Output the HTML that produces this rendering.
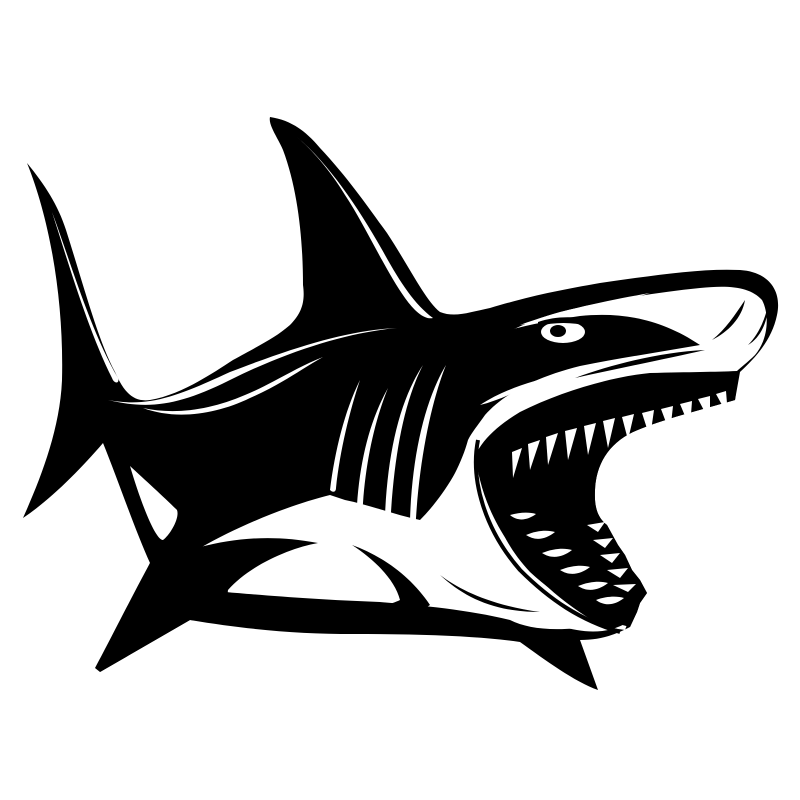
<!DOCTYPE html>
<html><head><meta charset="utf-8"><style>html,body{margin:0;padding:0;background:#fff}svg{display:block}</style></head>
<body>
<svg width="800" height="800" viewBox="0 0 800 800" xmlns="http://www.w3.org/2000/svg">
<rect width="800" height="800" fill="#fff"/>
<path fill="#000" d="
M 27,163
C 45,185 58,205 66,230
C 85,290 98,340 115,372
C 125,395 135,402 150,400
C 180,395 210,375 233,360
C 260,345 275,338 290,325
C 303,312 305,300 303,285
C 303,240 298,190 283,150
C 278,138 268,125 270,117
C 290,120 305,130 320,148
C 350,180 370,210 387,233
C 410,268 425,300 440,312
C 455,318 470,312 490,308
C 530,296 560,290 600,283
C 650,276 700,268 740,270
C 770,272 782,292 777,315
C 772,340 755,358 740,372
L 735,400
C 700,410 660,420 633,432
C 608,444 596,465 595,490
C 594,508 598,518 607,525
L 618,545 L 625,555 L 632,570 L 640,580 L 647,593 L 640,603 L 637,612 L 630,627
C 615,635 600,640 580,640
L 598,690
C 575,682 545,660 520,642
C 480,636 420,634 353,634
C 300,634 250,630 190,620
L 100,672 L 95,668
C 110,640 130,600 150,563
C 135,530 118,480 103,443
C 80,470 50,500 23,518
C 40,480 60,430 62,380
C 64,300 50,220 27,163 Z"/>

<path fill="#fff" d="M 52,212 C 70,260 90,330 118,378 C 120,384 114,384 112,378 C 88,330 68,262 52,212 Z"/>
<path fill="#fff" d="M 130,466 C 145,480 165,498 177,510 C 180,518 170,535 163,540 C 155,540 140,500 130,466 Z"/>
<path fill="#fff" d="M 108,400 C 150,410 180,405 230,380 C 290,350 350,332 397,328 C 350,330 300,345 230,372 C 180,395 150,408 108,400 Z"/>
<path fill="#fff" d="M 143,408 C 175,420 215,415 250,398 C 280,385 300,370 323,357 C 295,368 270,385 245,395 C 210,410 175,415 143,408 Z"/>
<path fill="#fff" d="M 297,137 C 330,165 360,210 385,255 C 400,282 415,305 433,318 C 425,320 415,312 405,298 C 385,270 365,225 345,195 C 330,170 312,150 297,137 Z"/>

<!-- face / lip white region -->
<path fill="#fff" d="
M 470,352
C 500,335 530,320 560,312
C 600,302 650,293 700,288
C 730,285 750,287 762,300
C 770,315 768,340 755,355
C 748,362 740,368 737,371
C 715,372 690,372 650,373
C 610,377 560,392 520,412
C 490,430 472,450 470,475
C 468,510 490,545 520,575
C 550,605 585,625 625,630
L 628,622
C 600,640 560,630 530,612
C 490,590 450,560 420,535
C 440,500 460,470 468,440
C 470,410 470,380 470,352 Z"/>
<!-- black band around eye -->
<path fill="#000" d="M 466,345 C 500,330 540,322 580,316 C 620,312 660,318 700,345 C 660,352 620,358 580,366 C 540,376 505,392 485,415 C 478,425 472,432 468,440 Z"/>
<path fill="#fff" d="M 480,405 C 500,392 520,385 545,378 C 520,390 500,400 480,405 Z"/>
<path fill="#fff" d="M 520,325 C 560,310 610,300 650,293 C 610,305 565,318 520,325 Z"/>
<!-- belly white -->
<path fill="#fff" d="
M 200,548
C 240,525 290,505 330,495
L 345,500 C 370,505 395,515 420,520
C 440,500 460,470 470,440
L 480,480
C 495,540 540,590 600,625
C 560,632 530,630 510,620
C 470,610 420,605 380,602
C 320,600 260,595 225,592
C 215,570 205,560 200,548 Z"/>
<path fill="#000" d="M 150,563 C 200,545 250,530 318,543 C 290,548 250,565 228,590 C 226,600 240,612 260,614 C 320,618 380,610 400,600 C 395,580 375,560 352,545 C 380,555 410,575 430,605 C 400,625 300,630 190,620 L 100,672 Z"/>
<path fill="#000" d="M 440,575 C 460,590 490,605 540,612 C 495,612 465,598 440,575 Z"/>
<path fill="#fff" d="M 360,380 C 345,410 335,450 330,490 C 333,493 336,492 336,488 C 340,450 350,410 360,380 Z"/>
<path fill="#fff" d="M 388,388 C 370,420 360,460 357,505 C 360,508 363,507 363,503 C 366,460 375,420 388,388 Z"/>
<path fill="#fff" d="M 423,365 C 400,400 388,450 385,515 C 388,518 391,517 391,512 C 395,450 405,400 423,365 Z"/>
<path fill="#fff" d="M 446,365 C 425,400 412,455 410,520 C 413,523 416,522 416,518 C 420,455 432,400 446,365 Z"/>
<path fill="none" stroke="#000" stroke-width="4" d="M 478,440 C 470,480 485,530 520,570 C 550,600 580,620 620,632"/>

<path fill="#000" d="
M 737,385
C 690,395 630,410 580,422
C 540,432 510,450 497,478
C 488,505 500,540 530,572
C 560,600 595,618 630,627
L 637,612 L 640,603 L 647,593 L 640,580 L 632,570 L 625,555 L 618,545 L 607,525
C 598,518 594,508 595,490
C 596,465 608,444 633,432
C 660,420 700,410 735,400 Z"/>
<g fill="#fff">
<path d="M 512,452 L 522,448 L 513,478 Z"/>
<path d="M 528,444 L 540,440 L 530,470 Z"/>
<path d="M 546,437 L 558,433 L 548,465 Z"/>
<path d="M 565,431 L 577,428 L 568,460 Z"/>
<path d="M 584,426 L 596,423 L 588,455 Z"/>
<path d="M 603,421 L 615,418 L 608,448 Z"/>
<path d="M 622,417 L 634,414 L 628,440 Z"/>
<path d="M 642,413 L 654,410 L 650,438 Z"/>
<path d="M 661,409 L 673,406 L 670,433 Z"/>
<path d="M 680,404 L 692,401 L 690,428 Z"/>
<path d="M 698,399 L 710,396 L 710,422 Z"/>
<path d="M 716,394 L 726,391 L 728,416 Z"/>
</g>
<g fill="#fff">
<path d="M 510,515 C 520,512 530,512 536,514 C 528,520 518,522 510,515 Z"/>
<path d="M 526,535 C 538,530 548,530 555,532 C 545,540 535,541 526,535 Z"/>
<path d="M 542,553 C 555,548 565,548 572,550 C 562,558 551,559 542,553 Z"/>
<path d="M 560,570 C 573,565 583,565 590,567 C 580,575 569,576 560,570 Z"/>
<path d="M 578,586 C 591,581 601,581 608,583 C 598,591 587,592 578,586 Z"/>
<path d="M 596,600 C 607,596 617,596 624,598 C 614,606 604,606 596,600 Z"/>
<path d="M 587,525 L 605,522 L 598,532 Z"/>
<path d="M 593,540 L 613,538 L 605,548 Z"/>
<path d="M 600,555 L 620,553 L 612,563 Z"/>
<path d="M 607,570 L 628,568 L 620,578 Z"/>
<path d="M 613,585 L 636,584 L 628,592 Z"/>
</g>

<path fill="#000" d="M 575,378 C 610,365 660,352 705,350 C 670,358 620,368 575,378 Z"/>
<path fill="#000" d="M 745,300 C 735,315 725,330 712,340 C 728,332 742,318 745,300 Z"/>
<path fill="#000" d="M 768,305 C 765,320 758,335 748,345 C 760,338 768,322 768,305 Z"/>
<ellipse cx="563" cy="332" rx="22" ry="11" fill="#fff"/>
<ellipse cx="558" cy="331" rx="8" ry="6" fill="#000"/>
<path fill="#000" d="M 538,322 C 555,316 575,316 590,320 L 588,326 C 572,322 555,322 538,326 Z"/>
</svg>
</body></html>
